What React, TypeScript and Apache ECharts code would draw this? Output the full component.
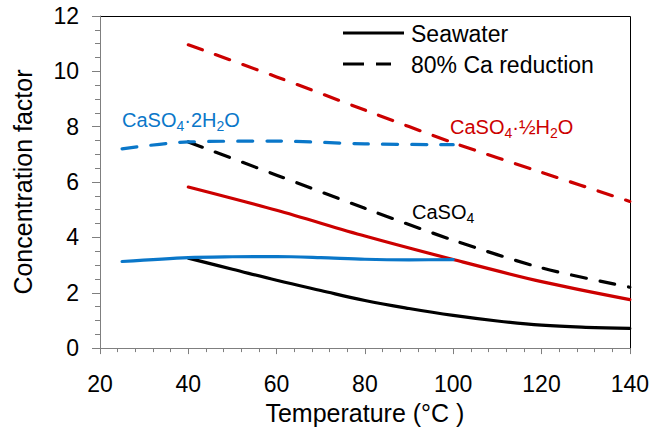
import React, { useEffect, useRef } from 'react';
import * as echarts from 'echarts';

// Temperature (°C) vs concentration factor
const xTicks = [20, 40, 60, 80, 100, 120, 140];
const seawaterGypsum = [[25, 3.13], [40, 3.27], [50, 3.3], [60, 3.31], [70, 3.27], [80, 3.21], [90, 3.19], [100, 3.2]];
const seawaterAnhydrite = [[40, 3.25], [50, 2.85], [60, 2.45], [70, 2.08], [80, 1.72], [90, 1.43], [100, 1.18], [110, 0.98], [120, 0.83], [130, 0.75], [140, 0.71]];
const seawaterHemihydrate = [[40, 5.82], [60, 4.98], [80, 4.05], [100, 3.2], [120, 2.4], [140, 1.75]];
const reducedGypsum = [[25, 7.2], [40, 7.45], [60, 7.48], [80, 7.38], [100, 7.35]];
const reducedAnhydrite = [[40, 7.45], [60, 6.25], [80, 5.05], [100, 3.9], [120, 2.9], [140, 2.2]];
const reducedHemihydrate = [[40, 10.96], [60, 9.8], [80, 8.6], [100, 7.42], [120, 6.35], [140, 5.3]];
const legendNames = ['Seawater', '80% Ca reduction'];

const BLACK = '#000000';
const RED = '#CC0000';
const BLUE = '#0A77C9';
const GRAY = '#7F7F7F';
const FONT = 'Liberation Sans';

const dash = [15, 14];

function lineSeries(name: string, data: number[][], color: string, dashed: boolean, smooth: number) {
  return {
    type: 'line',
    name,
    data,
    showSymbol: false,
    symbol: 'none',
    smooth,
    lineStyle: { color, width: 3.2, type: dashed ? dash : 'solid', cap: 'round' },
    itemStyle: { color },
  };
}

function richLabel(color: string) {
  return {
    a: { fontSize: 20, fontFamily: FONT, fill: color, color },
    s: { fontSize: 14, fontFamily: FONT, fill: color, color, padding: [11, 0, 0, 0] },
  };
}

export default function App() {
  const ref = useRef<HTMLDivElement>(null);
  useEffect(() => {
    if (!ref.current) return;
    const chart = echarts.init(ref.current, undefined, { renderer: 'svg' });
    chart.setOption({
      animation: false,
      textStyle: { fontFamily: FONT },
      grid: { left: 100, right: 22, top: 16, bottom: 80 },
      xAxis: {
        type: 'value',
        min: xTicks[0],
        max: xTicks[xTicks.length - 1],
        interval: 20,
        name: 'Temperature (°C )',
        nameLocation: 'middle',
        nameGap: 47,
        nameTextStyle: { fontSize: 25, color: '#000' },
        axisLine: { show: true, lineStyle: { color: GRAY, width: 1 } },
        axisTick: { show: true, length: 6, lineStyle: { color: GRAY, width: 1 } },
        minorTick: { show: true, splitNumber: 5, length: 4, lineStyle: { color: GRAY, width: 1 } },
        splitLine: { show: false },
        axisLabel: { fontSize: 23, color: '#000', margin: 24 },
      },
      yAxis: {
        type: 'value',
        min: 0,
        max: 12,
        interval: 2,
        name: 'Concentration factor',
        nameLocation: 'middle',
        nameGap: 65,
        nameRotate: 90,
        nameTextStyle: { fontSize: 25, color: '#000' },
        axisLine: { show: true, lineStyle: { color: GRAY, width: 1 } },
        axisTick: { show: true, length: 8, lineStyle: { color: GRAY, width: 1 } },
        minorTick: { show: true, splitNumber: 4, length: 5, lineStyle: { color: GRAY, width: 1 } },
        splitLine: { show: false },
        axisLabel: { fontSize: 23, color: '#000', margin: 21 },
      },
      series: [
        lineSeries('Seawater CaSO4', seawaterAnhydrite, BLACK, false, 0.4),
        lineSeries('Seawater CaSO4·½H2O', seawaterHemihydrate, RED, false, 0.3),
        lineSeries('Seawater CaSO4·2H2O', seawaterGypsum, BLUE, false, 0.3),
        lineSeries('80% Ca reduction CaSO4', reducedAnhydrite, BLACK, true, 0.3),
        lineSeries('80% Ca reduction CaSO4·½H2O', reducedHemihydrate, RED, true, 0.3),
        lineSeries('80% Ca reduction CaSO4·2H2O', reducedGypsum, BLUE, true, 0.3),
      ],
      graphic: [
        // plot-area frame (top and right edges)
        {
          type: 'polyline',
          shape: { points: [[100, 16.5], [630.5, 16.5], [630.5, 350]] },
          style: { stroke: BLACK, lineWidth: 1, fill: null },
        },
        // legend
        { type: 'line', shape: { x1: 343, y1: 33, x2: 404, y2: 33 }, style: { stroke: BLACK, lineWidth: 3.2 } },
        { type: 'text', x: 411, y: 34, style: { text: legendNames[0], fontSize: 23, fontFamily: FONT, fill: '#000', verticalAlign: 'middle' } },
        { type: 'line', shape: { x1: 343, y1: 64, x2: 391, y2: 64 }, style: { stroke: BLACK, lineWidth: 3.2, lineDash: [21, 12] } },
        { type: 'text', x: 411, y: 65, style: { text: legendNames[1], fontSize: 23, fontFamily: FONT, fill: '#000', verticalAlign: 'middle' } },
        // curve labels
        {
          type: 'text', x: 122, y: 120,
          style: { text: '{a|CaSO}{s|4}{a|·2H}{s|2}{a|O}', rich: richLabel(BLUE), fill: BLUE, verticalAlign: 'middle' },
        },
        {
          type: 'text', x: 450, y: 127,
          style: { text: '{a|CaSO}{s|4}{a|·½H}{s|2}{a|O}', rich: richLabel(RED), fill: RED, verticalAlign: 'middle' },
        },
        {
          type: 'text', x: 412, y: 212,
          style: { text: '{a|CaSO}{s|4}', rich: richLabel(BLACK), fill: BLACK, verticalAlign: 'middle' },
        },
      ],
    });
    return () => chart.dispose();
  }, []);
  return (
    <div
      ref={ref}
      style={{ position: 'absolute', left: 0, top: 0, width: 652, height: 430, background: '#fff' }}
    />
  );
}
